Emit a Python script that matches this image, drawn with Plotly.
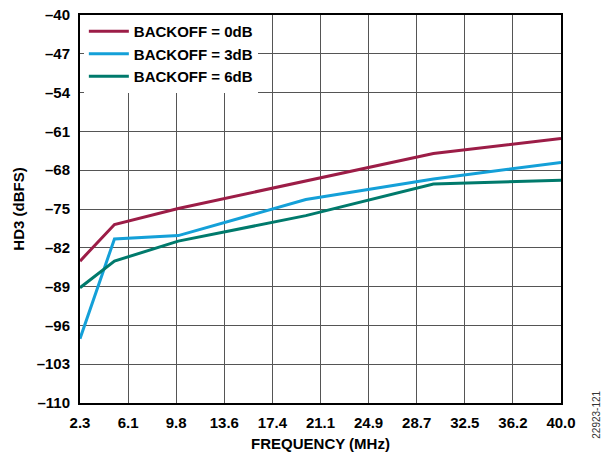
import plotly.graph_objects as go
import numpy as np

freq = [2.3, 5.0, 10.0, 20.0, 30.0, 40.0]
backoff_0db = [-84.4, -77.8, -74.9, -70.0, -65.0, -62.3]
backoff_3db = [-98.4, -80.4, -79.8, -73.3, -69.6, -66.6]
backoff_6db = [-89.2, -84.4, -80.8, -76.2, -70.5, -69.8]
series_names = ["BACKOFF = 0dB", "BACKOFF = 3dB", "BACKOFF = 6dB"]
x_tick_labels = ["2.3", "6.1", "9.8", "13.6", "17.4", "21.1", "24.9", "28.7", "32.5", "36.2", "40.0"]
y_tick_values = [-40, -47, -54, -61, -68, -75, -82, -89, -96, -103, -110]
y_tick_labels = ["–40", "–47", "–54", "–61", "–68", "–75", "–82", "–89", "–96", "–103", "–110"]

colors = ["#9C1D47", "#14A0D8", "#007A6C"]
font_family = "Liberation Sans, Arial, sans-serif"

x_tick_positions = list(np.linspace(2.3, 40.0, len(x_tick_labels)))

fig = go.Figure()
for name, ys, c in zip(series_names, [backoff_0db, backoff_3db, backoff_6db], colors):
    fig.add_trace(go.Scatter(x=freq, y=ys, mode="lines", name="<b>" + name + "</b>",
                             line=dict(color=c, width=3)))

axis_common = dict(showline=True, linecolor="black", linewidth=2, mirror=True,
                   showgrid=True, gridcolor="#555555", gridwidth=1, zeroline=False,
                   automargin=False,
                   ticks="", tickfont=dict(family=font_family, size=15, color="black"))

fig.update_layout(
    width=603, height=457,
    margin=dict(l=80, r=42, t=15, b=54),
    paper_bgcolor="white", plot_bgcolor="white",
    font=dict(family=font_family, color="black"),
    showlegend=True,
    legend=dict(x=0.008, y=1.0, xanchor="left", yanchor="top", bgcolor="white",
                borderwidth=0, font=dict(family=font_family, size=15, color="black"),
                itemwidth=40, tracegroupgap=0),
    xaxis=dict(range=[2.3, 40.0], tickvals=x_tick_positions,
               ticktext=["<b>" + t + "</b>" for t in x_tick_labels],
               ticklabelstandoff=5,
               title=dict(text="<b>FREQUENCY (MHz)</b>", font=dict(size=15), standoff=8),
               **axis_common),
    yaxis=dict(range=[-110, -40], tickvals=y_tick_values,
               ticktext=["<b>" + t + "</b>" for t in y_tick_labels],
               ticklabelstandoff=5,
               title=dict(text="<b>HD3 (dBFS)</b>", font=dict(size=15), standoff=8),
               **axis_common),
)

fig.add_annotation(text="22923-121", xref="paper", yref="paper", x=1.075, y=-0.03,
                   xanchor="center", yanchor="middle", textangle=-90, showarrow=False,
                   font=dict(family=font_family, size=10, color="#333333"))

fig.write_html("out.html")
